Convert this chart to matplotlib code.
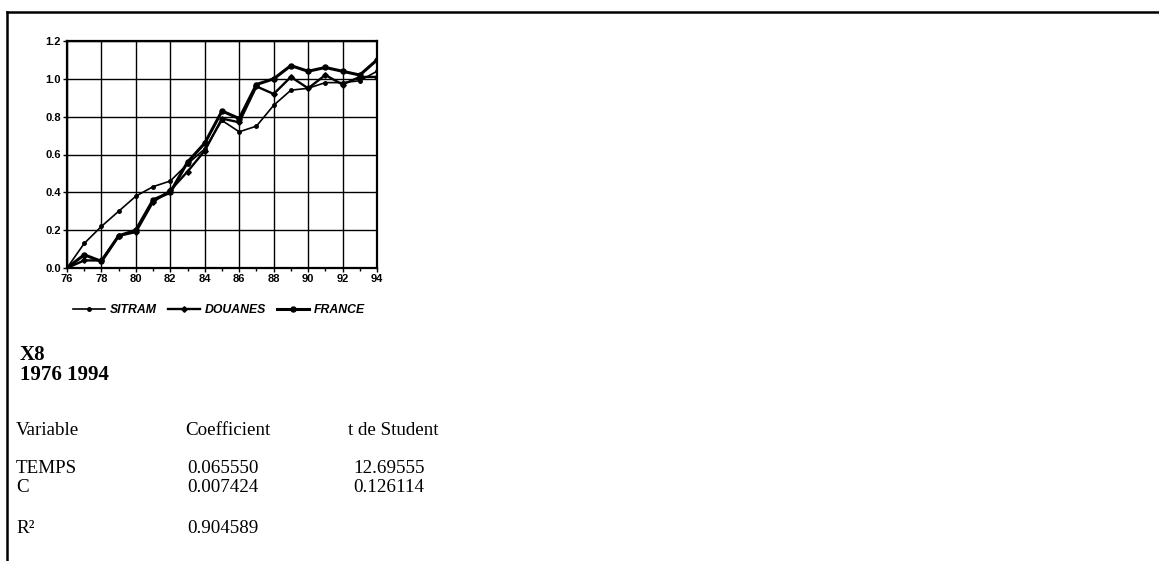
import numpy as np
import matplotlib
matplotlib.use("Agg")
import matplotlib.pyplot as plt
from matplotlib.lines import Line2D
from matplotlib.ticker import MultipleLocator

years = np.arange(76, 95)
sitram = [0.00, 0.13, 0.22, 0.30, 0.38, 0.43, 0.46, 0.55, 0.63, 0.78,
          0.72, 0.75, 0.86, 0.94, 0.95, 0.98, 0.98, 0.99, 1.04]
douanes = [0.00, 0.04, 0.04, 0.17, 0.19, 0.35, 0.41, 0.51, 0.62, 0.79,
           0.77, 0.96, 0.92, 1.01, 0.95, 1.02, 0.97, 1.01, 1.01]
france = [0.00, 0.07, 0.035, 0.17, 0.20, 0.36, 0.40, 0.56, 0.66, 0.83,
          0.79, 0.97, 1.00, 1.07, 1.04, 1.06, 1.04, 1.02, 1.10]
series_names = ["SITRAM", "DOUANES", "FRANCE"]

header = ["X8", "1976 1994"]
col_names = ["Variable", "Coefficient", "t de Student"]
variables = ["TEMPS", "C"]
coefs = ["0.065550", "0.007424"]
tstats = ["12.69555", "0.126114"]
r2 = "0.904589"

W, H = 1159, 561
fig = plt.figure(figsize=(W / 100, H / 100), dpi=100)

# page frame: top and left rules
fig.add_artist(Line2D([7 / W, 1], [1 - 12 / H, 1 - 12 / H], color="black", lw=1.8))
fig.add_artist(Line2D([7 / W, 7 / W], [0, 1 - 12 / H], color="black", lw=1.8))

ax = fig.add_axes([67 / W, 1 - 268 / H, 310 / W, 227 / H])
ax.plot(years, sitram, color="black", lw=1.2, marker="o", ms=2.5, label=series_names[0])
ax.plot(years, douanes, color="black", lw=1.7, marker="D", ms=2.8, label=series_names[1])
ax.plot(years, france, color="black", lw=2.2, marker="o", ms=3.6, label=series_names[2])

ax.set_xlim(76, 94)
ax.set_ylim(0, 1.2)
ax.set_xticks(np.arange(76, 95, 2))
ax.xaxis.set_minor_locator(MultipleLocator(1))
ax.set_yticks(np.arange(0, 1.21, 0.2))
ax.set_yticklabels([f"{v:.1f}" for v in np.arange(0, 1.21, 0.2)])
ax.grid(True, color="black", lw=1.0)
for s in ax.spines.values():
    s.set_linewidth(1.6)
ax.tick_params(labelsize=8, length=3, width=1, pad=1.5)
ax.tick_params(which="minor", length=2, width=1)
for lab in ax.get_xticklabels() + ax.get_yticklabels():
    lab.set_fontweight("bold")
    lab.set_family("Liberation Sans")

leg = fig.legend(loc="center", bbox_to_anchor=(219 / W, 1 - 310 / H), ncol=3,
                 frameon=False, handlelength=2.6, handletextpad=0.4, columnspacing=0.9,
                 prop={"family": "Liberation Sans", "weight": "bold", "style": "italic", "size": 8.8})

serif = "Liberation Serif"
fs = 13.7
fig.text(20 / W, 1 - 360 / H, header[0], family=serif, weight="bold", size=15, va="baseline")
fig.text(20 / W, 1 - 380 / H, header[1], family=serif, weight="bold", size=15, va="baseline")

xs = [16, 185, 348]
for x, name in zip(xs, col_names):
    fig.text(x / W, 1 - 435 / H, name, family=serif, size=fs, va="baseline")

for i, yb in enumerate([473, 492]):
    fig.text(xs[0] / W, 1 - yb / H, variables[i], family=serif, size=fs, va="baseline")
    fig.text(187 / W, 1 - yb / H, coefs[i], family=serif, size=fs, va="baseline")
    fig.text(353 / W, 1 - yb / H, tstats[i], family=serif, size=fs, va="baseline")

fig.text(xs[0] / W, 1 - 533 / H, "R²", family=serif, size=fs, va="baseline")
fig.text(187 / W, 1 - 533 / H, r2, family=serif, size=fs, va="baseline")

fig.savefig("out.png", dpi=100)
